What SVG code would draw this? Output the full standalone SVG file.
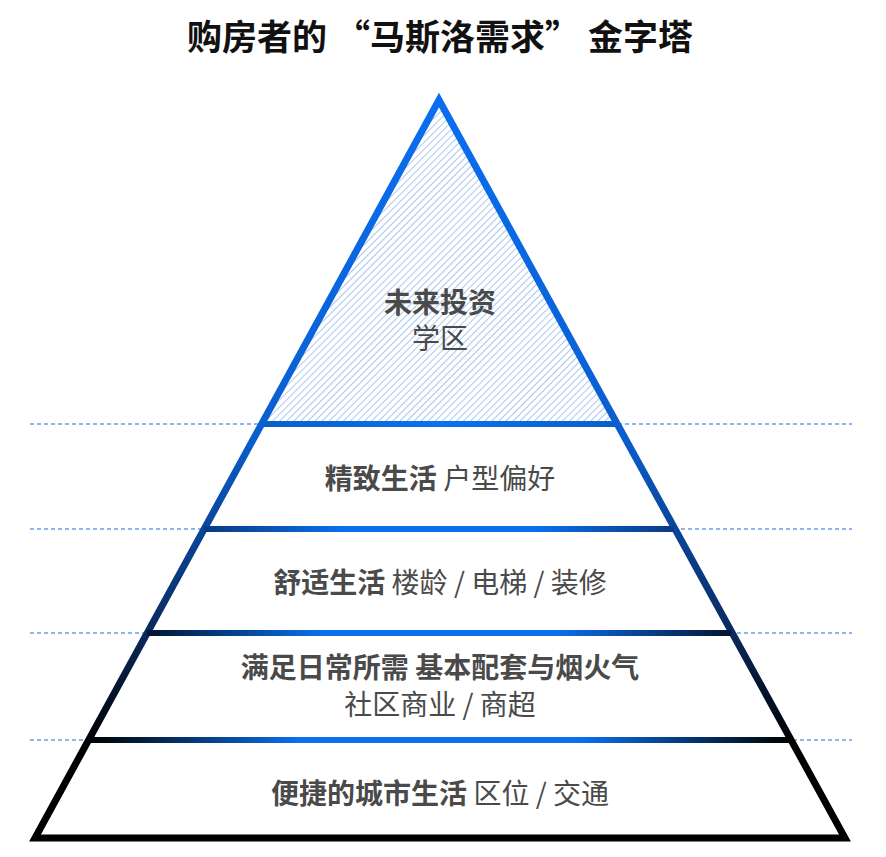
<svg xmlns="http://www.w3.org/2000/svg" width="886" height="857" viewBox="0 0 886 857">
<defs>
<style>
text{font-family:"Noto Sans CJK SC","Noto Sans",sans-serif;fill:#4a4a4a;text-anchor:middle;font-size:28px}
.b{font-weight:bold}
.dash{stroke:#1a6fe0;stroke-width:1.2;stroke-dasharray:4 3}
</style>
<pattern id="hatch" width="5" height="5" patternUnits="userSpaceOnUse" patternTransform="rotate(45)">
<line x1="0" y1="0" x2="0" y2="5" stroke="#a9c7f0" stroke-width="2"/>
</pattern>
<linearGradient id="side" gradientUnits="userSpaceOnUse" x1="0" y1="100" x2="0" y2="838">
<stop offset="0" stop-color="#0a6ef0"/>
<stop offset="0.45" stop-color="#0a5fd0"/>
<stop offset="0.72" stop-color="#0a2a60"/>
<stop offset="0.87" stop-color="#000"/>
<stop offset="1" stop-color="#000"/>
</linearGradient>
<linearGradient id="h1" gradientUnits="userSpaceOnUse" x1="262" y1="0" x2="617" y2="0"><stop offset="0" stop-color="#0a5fc8"/><stop offset="0.5" stop-color="#0a72f0"/><stop offset="1" stop-color="#0a5fc8"/></linearGradient>
<linearGradient id="h2" gradientUnits="userSpaceOnUse" x1="204" y1="0" x2="674" y2="0"><stop offset="0" stop-color="#0a3a80"/><stop offset="0.3" stop-color="#0a70ee"/><stop offset="0.7" stop-color="#0a70ee"/><stop offset="1" stop-color="#0a3a80"/></linearGradient>
<linearGradient id="h3" gradientUnits="userSpaceOnUse" x1="147" y1="0" x2="731" y2="0"><stop offset="0" stop-color="#031430"/><stop offset="0.3" stop-color="#0a70ee"/><stop offset="0.7" stop-color="#0a70ee"/><stop offset="1" stop-color="#031430"/></linearGradient>
<linearGradient id="h4" gradientUnits="userSpaceOnUse" x1="89" y1="0" x2="790" y2="0"><stop offset="0" stop-color="#000"/><stop offset="0.3" stop-color="#0a70ee"/><stop offset="0.7" stop-color="#0a70ee"/><stop offset="1" stop-color="#000"/></linearGradient>
</defs>
<rect width="886" height="857" fill="#fff"/>
<text class="b" x="440" y="50" style="font-size:35px;fill:#111">购房者的 “马斯洛需求” 金字塔</text>
<g id="guides">
<line class="dash" x1="30" y1="424" x2="852" y2="424"/>
<line class="dash" x1="30" y1="529" x2="852" y2="529"/>
<line class="dash" x1="30" y1="633" x2="852" y2="633"/>
<line class="dash" x1="30" y1="740" x2="852" y2="740"/>
</g>
<g id="apex"><polygon points="439,100 262,424 617,424" fill="url(#hatch)"/></g>
<polygon points="262,427 617,427 672,526 206,526" fill="#fff"/>
<polygon points="204,532 674,532 729,630 149,630" fill="#fff"/>
<polygon points="147,636 731,636 788,737 91,737" fill="#fff"/>
<polygon points="89,743 790,743 842,835 38,835" fill="#fff"/>
<g id="connectors">
<polygon points="439,100 35,838 845,838" fill="none" stroke="url(#side)" stroke-width="7" stroke-linejoin="miter"/>
<rect x="262" y="421" width="355" height="6" fill="url(#h1)"/>
<rect x="204" y="526" width="470" height="6" fill="url(#h2)"/>
<rect x="147" y="630" width="584" height="6" fill="url(#h3)"/>
<rect x="89" y="737" width="701" height="6" fill="url(#h4)"/>
</g>
<g id="l5"><text class="b" x="440" y="313">未来投资</text><text x="440" y="349">学区</text></g>
<g id="l4"><text x="440" y="489"><tspan class="b">精致生活</tspan> 户型偏好</text></g>
<g id="l3"><text x="440" y="593"><tspan class="b">舒适生活</tspan> 楼龄 / 电梯 / 装修</text></g>
<g id="l2"><text class="b" x="440" y="678">满足日常所需 基本配套与烟火气</text><text x="440" y="715">社区商业 / 商超</text></g>
<g id="l1"><text x="440" y="804"><tspan class="b">便捷的城市生活</tspan> 区位 / 交通</text></g>
</svg>
